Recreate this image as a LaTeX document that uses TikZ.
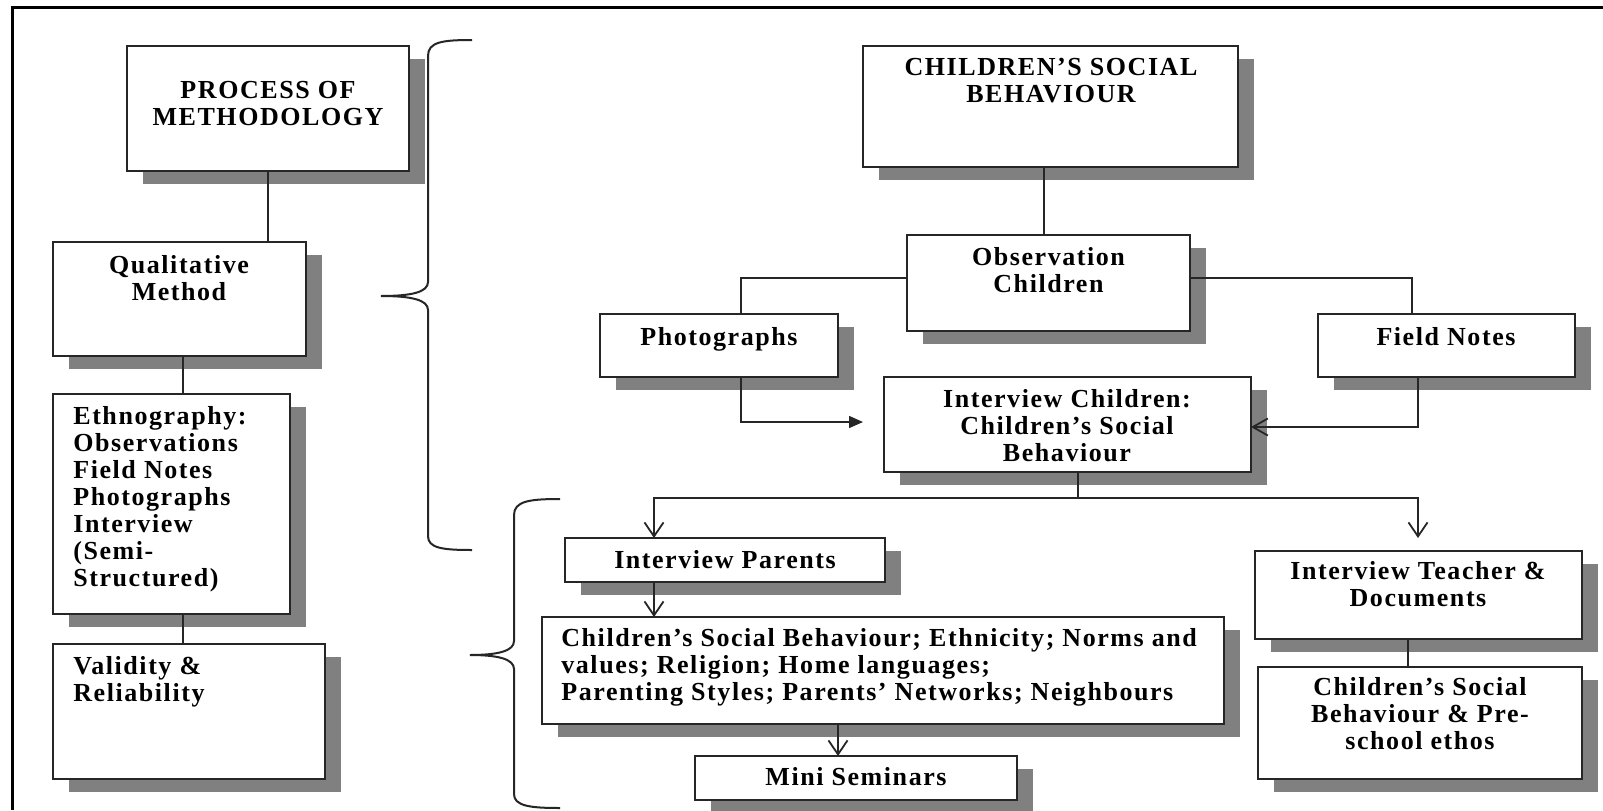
\documentclass[tikz,border=0pt]{standalone}
\usepackage{fontspec}
\setmainfont{Liberation Serif}[LetterSpace=6]
\usetikzlibrary{arrows.meta,shadows,calc}

% box from its top-left (x1,y1) to bottom-right (x2,y2), in pixel units
\newcommand\mkbox[5]{%
  \node[boxst, minimum width={(#4-#2)*0.5pt}, minimum height={(#5-#3)*0.5pt}]
    (#1) at ({(#2+#4)/2},{(#3+#5)/2}) {};}

\begin{document}
\begin{tikzpicture}[x=0.5pt,y=-0.5pt,
  boxst/.style={draw=black!85, line width=1pt, fill=white, inner sep=0pt, outer sep=0pt,
    drop shadow={shadow xshift=8pt, shadow yshift=-6.25pt, fill=black!50, opacity=1}},
  lbl/.style={inner sep=0pt, font=\fontsize{13}{13.5}\selectfont\bfseries,
    align=center, anchor=north},
  lbll/.style={lbl, align=left, anchor=north west},
  conn/.style={draw=black!85, line width=0.75pt},
  downarr/.style={conn, -{Straight Barb[length=7pt,width=9.5pt,line width=0.9pt]}},
  leftarr/.style={conn, -{Straight Barb[length=7.5pt,width=8.5pt,line width=0.9pt]}},
  fillarr/.style={conn, -{Triangle[length=7pt,width=6pt]}},
  bracest/.style={draw=black!85, line width=1pt},
  framest/.style={draw=black, line width=1.5pt}]

\useasboundingbox (0,0) rectangle (1603,810);
\fill[white] (0,0) rectangle (1603,810);

% outer frame: only its top and left sides fall on the page
\draw[framest] (1603,7.5) -- (12,7.5) -- (12,810);

% left column
\mkbox{pm}{127}{46}{409}{171}
\mkbox{qm}{53}{242}{306}{356}
\mkbox{eth}{53}{394}{290}{614}
\mkbox{vr}{53}{644}{325}{779}

% right part
\mkbox{csb}{863}{46}{1238}{167}
\mkbox{obs}{907}{235}{1190}{331}
\mkbox{ph}{600}{314}{838}{377}
\mkbox{fn}{1318}{314}{1575}{377}
\mkbox{ic}{884}{377}{1251}{472}
\mkbox{ip}{565}{538}{885}{582}
\mkbox{big}{542}{617}{1224}{724}
\mkbox{ms}{695}{756}{1017}{800}
\mkbox{it}{1255}{551}{1582}{639}
\mkbox{cs2}{1258}{667}{1582}{779}

% labels
\node[lbl] (tpm) at (268,80.5) {PROCESS OF\\METHODOLOGY};
\node[lbl] (tqm) at (179,255.5) {Qualitative\\Method};
\node[lbll] (teth) at (73,406.5) {Ethnography:\\Observations\\Field Notes\\Photographs\\Interview\\(Semi-\\Structured)};
\node[lbll] (tvr) at (73,656.5) {Validity \&\\Reliability};
\node[lbl] (tcsb) at (1051,57.5) {CHILDREN’S SOCIAL\\BEHAVIOUR};
\node[lbl] (tobs) at (1048.5,247.5) {Observation\\Children};
\node[lbl] (tph) at (719,327.5) {Photographs};
\node[lbl] (tfn) at (1446,327.5) {Field Notes};
\node[lbl] (tic) at (1067,389.5) {Interview Children:\\Children’s Social\\Behaviour};
\node[lbl] (tip) at (725,550.5) {Interview Parents};
\node[lbll] (tbig) at (561,628.5) {Children’s Social Behaviour; Ethnicity; Norms and\\values; Religion; Home languages;\\Parenting Styles; Parents’ Networks; Neighbours};
\node[lbl] (tms) at (856,767.5) {Mini Seminars};
\node[lbl] (tit) at (1418,561.5) {Interview Teacher \&\\Documents};
\node[lbl] (tcs2) at (1420,677.5) {Children’s Social\\Behaviour \& Pre-\\school ethos};

% connector columns
\coordinate (xa) at (183,0);
\coordinate (xb) at (1044,0);
\coordinate (xph) at (741,0);
\coordinate (xfn) at (1412,0);
\coordinate (xfn2) at (1418,0);
\coordinate (split) at (1078,498);
\coordinate (xip) at (654,0);
\coordinate (xit) at (1418,0);
\coordinate (xms) at (838,0);
\coordinate (xcs) at (1408,0);

% left column links
\draw[conn] (pm.south) -- (pm.south |- qm.north);
\draw[conn] (qm.south -| xa) -- (eth.north -| xa);
\draw[conn] (eth.south -| xa) -- (vr.north -| xa);

% observation branch
\draw[conn] (csb.south -| xb) -- (obs.north -| xb);
\draw[conn] ([yshift=2.5pt]obs.west) -| (ph.north -| xph);
\draw[conn] ([yshift=2.5pt]obs.east) -| (fn.north -| xfn);
\draw[fillarr] (ph.south -| xph) |- ([xshift=-10.5pt,yshift=1.25pt]ic.west);
\draw[leftarr] (fn.south -| xfn2) |- ([yshift=-1.25pt]ic.east);

% interviews
\draw[conn] (ic.south -| split) -- (split);
\draw[downarr] (split) -| (ip.north -| xip);
\draw[downarr] (split) -| ($(it.north -| xit)+(0,-13)$);
\draw[downarr] (ip.south -| xip) -- (big.north -| xip);
\draw[downarr] (big.south -| xms) -- (ms.north -| xms);
\draw[conn] (it.south -| xcs) -- (cs2.north -| xcs);

% braces
\draw[bracest] (472,40) .. controls (442,40) and (428,42) .. (428,56)
  -- (428,282) .. controls (428,292) and (412,296) .. (381,296)
  .. controls (412,296) and (428,300) .. (428,310)
  -- (428,536) .. controls (428,548) and (442,550) .. (472,550);
\draw[bracest] (560,499) .. controls (530,499) and (514,501) .. (514,515)
  -- (514,641) .. controls (514,651) and (498,655) .. (470,655)
  .. controls (498,655) and (514,659) .. (514,669)
  -- (514,794) .. controls (514,806) and (530,808) .. (560,808);

\end{tikzpicture}
\end{document}
